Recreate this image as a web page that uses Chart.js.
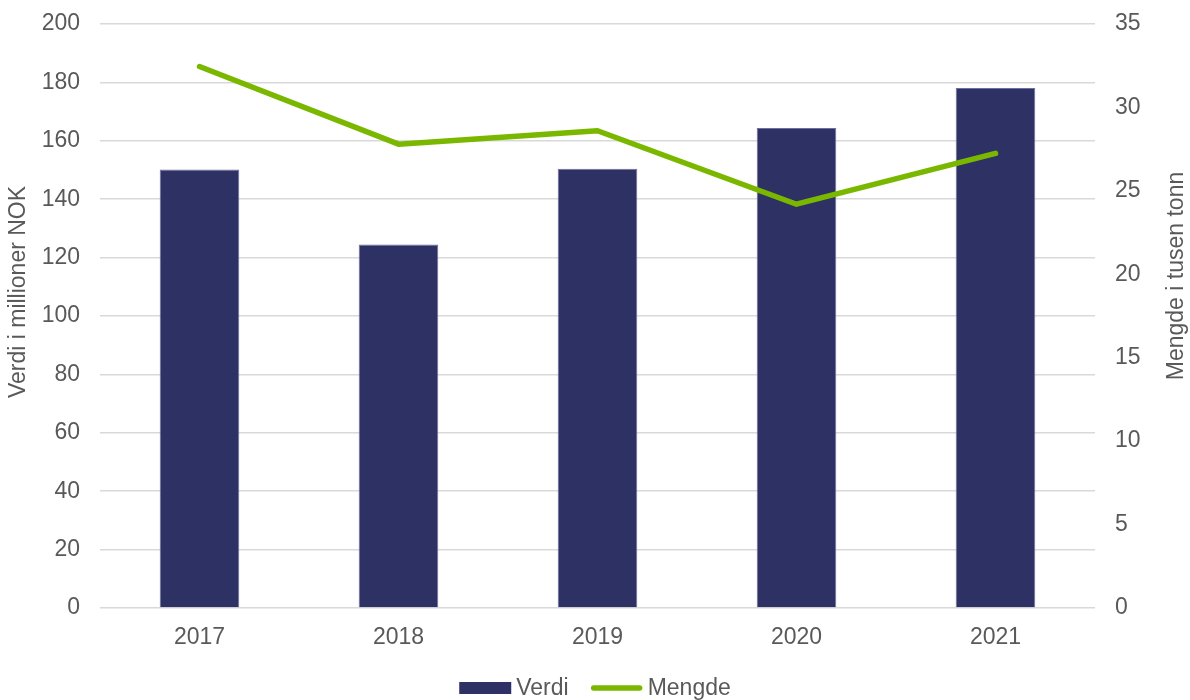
<!DOCTYPE html>
<html>
<head>
<meta charset="utf-8">
<title>Verdi og mengde 2017–2021</title>
<script src="https://cdn.jsdelivr.net/npm/chart.js@4/dist/chart.umd.min.js"></script>
<style>
  html, body { margin: 0; padding: 0; background: #ffffff; }
  #wrap { width: 1190px; height: 700px; position: relative; }
</style>
</head>
<body>
<div id="wrap"><canvas id="chart" width="1190" height="700"></canvas></div>
<script>
// Years on the category axis
const years = ['2017', '2018', '2019', '2020', '2021'];
// Value, million NOK (left axis)
const verdi = [150.2, 124.5, 150.4, 164.4, 178.1];
// Volume, thousand tonnes (right axis)
const mengde = [32.45, 27.8, 28.6, 24.2, 27.25];

const leftTitle = 'Verdi i millioner NOK';
const rightTitle = 'Mengde i tusen tonn';

const TEXT = '#595959';
const FONT = "'Liberation Sans', Arial, Helvetica, sans-serif";
const FS = 23;
const NAVY = '#2E3164';
const GREEN = '#7AB800';

// Axis titles and the legend row are drawn by hand for exact placement
const decorations = {
  id: 'decorations',
  afterDraw(chart) {
    const ctx = chart.ctx;
    ctx.save();
    ctx.fillStyle = TEXT;
    ctx.font = FS + 'px ' + FONT;
    ctx.textAlign = 'center';
    ctx.textBaseline = 'middle';

    ctx.save();
    ctx.translate(19, 292);
    ctx.rotate(-Math.PI / 2);
    ctx.fillText(leftTitle, 0, 0);
    ctx.restore();

    ctx.save();
    ctx.translate(1177, 276);
    ctx.rotate(-Math.PI / 2);
    ctx.fillText(rightTitle, 0, 0);
    ctx.restore();

    // Legend: swatch + label for each dataset, centred under the plot
    const items = chart.data.datasets.map(ds => ({
      text: ds.label,
      type: ds.type,
      color: ds.type === 'line' ? ds.borderColor : ds.backgroundColor
    }));
    const swatchW = 52, gapText = 5, gapItem = 22;
    let total = 0;
    items.forEach((it, i) => {
      it.w = swatchW + gapText + ctx.measureText(it.text).width;
      total += it.w + (i ? gapItem : 0);
    });
    let x = chart.width / 2 - total / 2;
    const y = 688;
    ctx.textAlign = 'left';
    items.forEach(it => {
      if (it.type === 'line') {
        ctx.strokeStyle = it.color;
        ctx.lineWidth = 5.5;
        ctx.lineCap = 'round';
        ctx.beginPath();
        ctx.moveTo(x + 3, y);
        ctx.lineTo(x + swatchW - 3, y);
        ctx.stroke();
      } else {
        ctx.fillStyle = it.color;
        ctx.fillRect(x, y - 6, swatchW, 12);
      }
      ctx.fillStyle = TEXT;
      ctx.fillText(it.text, x + swatchW + gapText, y + 1);
      x += it.w + gapItem;
    });
    ctx.restore();
  }
};

// Fixed axis widths; no extra room reserved for the outer tick labels
function fixWidth(w) {
  return function (scale) {
    scale.width = w;
    scale.paddingTop = 0;
    scale.paddingBottom = 0;
  };
}

new Chart(document.getElementById('chart'), {
  data: {
    labels: years,
    datasets: [
      {
        type: 'bar',
        label: 'Verdi',
        data: verdi,
        yAxisID: 'y',
        backgroundColor: NAVY,
        borderColor: '#6d6f9c',
        borderWidth: 1,
        categoryPercentage: 1.0,
        barPercentage: 0.4,
        order: 2
      },
      {
        type: 'line',
        label: 'Mengde',
        data: mengde,
        yAxisID: 'y1',
        borderColor: GREEN,
        backgroundColor: GREEN,
        borderWidth: 5.5,
        borderCapStyle: 'round',
        borderJoinStyle: 'round',
        pointRadius: 0,
        pointHoverRadius: 0,
        tension: 0,
        fill: false,
        order: 1
      }
    ]
  },
  options: {
    responsive: false,
    animation: false,
    devicePixelRatio: 1,
    layout: { padding: { top: 24, left: 0, right: 0, bottom: 0 } },
    plugins: {
      legend: { display: false },
      tooltip: { enabled: false },
      title: { display: false }
    },
    scales: {
      x: {
        grid: { display: false, drawTicks: false },
        border: { display: false },
        ticks: {
          color: TEXT,
          font: { family: FONT, size: FS },
          padding: 16,
          maxRotation: 0
        },
        afterFit(scale) {
          scale.height = 92;
          scale.paddingLeft = 0;
          scale.paddingRight = 0;
        }
      },
      y: {
        position: 'left',
        min: 0,
        max: 200,
        grid: { color: '#D9D9D9', lineWidth: 1.5, drawTicks: false },
        border: { display: false },
        ticks: {
          stepSize: 20,
          color: TEXT,
          font: { family: FONT, size: FS },
          padding: 20
        },
        afterFit: fixWidth(100)
      },
      y1: {
        position: 'right',
        min: 0,
        max: 35,
        grid: { display: false, drawTicks: false },
        border: { display: false },
        ticks: {
          stepSize: 5,
          color: TEXT,
          font: { family: FONT, size: FS },
          padding: 20
        },
        afterFit: fixWidth(95)
      }
    }
  },
  plugins: [decorations]
});
</script>
</body>
</html>
